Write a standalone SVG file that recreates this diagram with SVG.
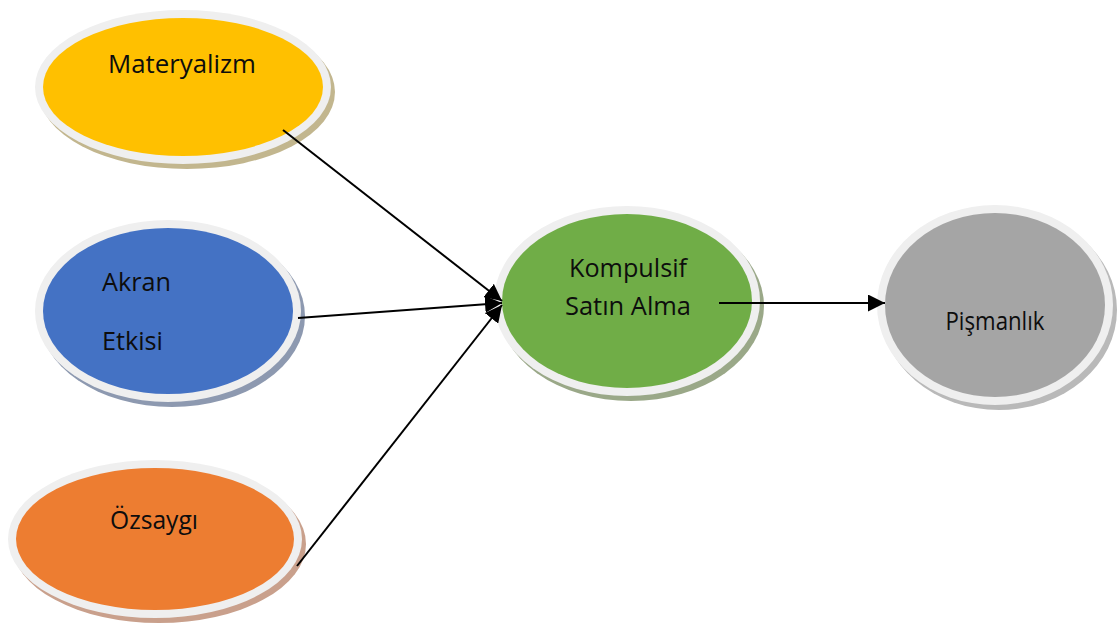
<svg xmlns="http://www.w3.org/2000/svg" width="1117" height="628" viewBox="0 0 1117 628">
  <defs>
    <style>
      .ring { fill: #efefef; }
      .lbl { font-family: "Open Sans", "Liberation Sans", sans-serif; font-size: 25px; fill: #0d0d0d; }
      .edge { stroke: #000; stroke-width: 2; fill: none; }
    </style>
    <marker id="headL" viewBox="0 0 10 10" refX="10" refY="5" markerWidth="17" markerHeight="17" markerUnits="userSpaceOnUse" orient="auto">
      <path d="M0,0 L10,5 L0,10 z" fill="#000"/>
    </marker>
  </defs>

  <rect width="1117" height="628" fill="#ffffff"/>

  <g id="node-materyalizm">
    <ellipse cx="187" cy="92" rx="148" ry="77" fill="#c2b68e"/>
    <ellipse class="ring" cx="183" cy="87" rx="148" ry="77"/>
    <ellipse cx="183" cy="87" rx="140" ry="69" fill="#ffc000"/>
    <text class="lbl" x="182" y="73" text-anchor="middle" textLength="148" lengthAdjust="spacingAndGlyphs">Materyalizm</text>
  </g>

  <g id="node-akran">
    <ellipse cx="172" cy="316" rx="133" ry="91" fill="#8d99b0"/>
    <ellipse class="ring" cx="168" cy="311" rx="133" ry="91"/>
    <ellipse cx="168" cy="311" rx="125" ry="83" fill="#4472c4"/>
    <text class="lbl" x="102" y="291" textLength="69" lengthAdjust="spacingAndGlyphs">Akran</text>
    <text class="lbl" x="102" y="350" textLength="61" lengthAdjust="spacingAndGlyphs">Etkisi</text>
  </g>

  <g id="node-ozsaygi">
    <ellipse cx="159" cy="544" rx="147" ry="79" fill="#c9a08c"/>
    <ellipse class="ring" cx="155" cy="539" rx="147" ry="79"/>
    <ellipse cx="155" cy="539" rx="139" ry="71" fill="#ed7d31"/>
    <text class="lbl" x="154" y="529" text-anchor="middle" textLength="88" lengthAdjust="spacingAndGlyphs">Özsaygı</text>
  </g>

  <g id="node-kompulsif">
    <ellipse cx="631" cy="306" rx="133" ry="95" fill="#9aa888"/>
    <ellipse class="ring" cx="627" cy="301" rx="133" ry="95"/>
    <ellipse cx="627" cy="301" rx="125" ry="87" fill="#70ad47"/>
    <text class="lbl" x="628" y="277" text-anchor="middle" textLength="118" lengthAdjust="spacingAndGlyphs">Kompulsif</text>
    <text class="lbl" x="628" y="315" text-anchor="middle" textLength="126" lengthAdjust="spacingAndGlyphs">Satın Alma</text>
  </g>

  <g id="node-pismanlik">
    <ellipse cx="999" cy="310" rx="118" ry="100" fill="#b9b9b9"/>
    <ellipse class="ring" cx="995" cy="305" rx="118" ry="100"/>
    <ellipse cx="995" cy="305" rx="110" ry="92" fill="#a5a5a5"/>
    <text class="lbl" x="995" y="330" text-anchor="middle" font-size="22" textLength="99" lengthAdjust="spacingAndGlyphs">Pişmanlık</text>
  </g>

  <g id="connectors">
    <line class="edge" x1="283" y1="130" x2="502" y2="301" marker-end="url(#headL)"/>
    <line class="edge" x1="298" y1="318" x2="502" y2="303" marker-end="url(#headL)"/>
    <line class="edge" x1="297" y1="566" x2="502" y2="305" marker-end="url(#headL)"/>
    <line class="edge" x1="719" y1="303" x2="885" y2="303" marker-end="url(#headL)"/>
  </g>
</svg>
